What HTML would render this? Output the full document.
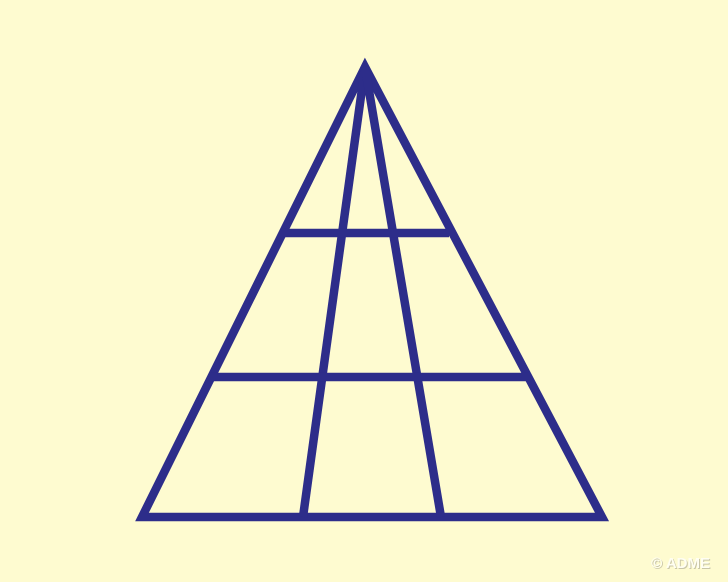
<!DOCTYPE html>
<html><head><style>
html,body{margin:0;padding:0;width:728px;height:582px;overflow:hidden;background:#fefbd0;}
svg{display:block;}
</style></head><body>
<svg width="728" height="582" viewBox="0 0 728 582">
<rect x="0" y="0" width="728" height="582" fill="#fefbd0"/>
<g stroke="#2d2d8a" stroke-width="8.5" fill="none" stroke-linejoin="miter" stroke-miterlimit="10">
<polygon points="365,67 142,517 602,517"/>
<line x1="365" y1="67" x2="303" y2="517"/>
<line x1="365" y1="67" x2="441" y2="517"/>
<line x1="284" y1="233" x2="449" y2="233"/>
<line x1="211" y1="377" x2="528" y2="377"/>
</g>
<text x="711" y="569" text-anchor="end" font-family="Liberation Sans, sans-serif" font-size="15" font-weight="bold" fill="#c9c6a8">© ADME</text>
<text x="710" y="568" text-anchor="end" font-family="Liberation Sans, sans-serif" font-size="15" font-weight="bold" fill="#fffef2">© ADME</text>
</svg>
</body></html>
